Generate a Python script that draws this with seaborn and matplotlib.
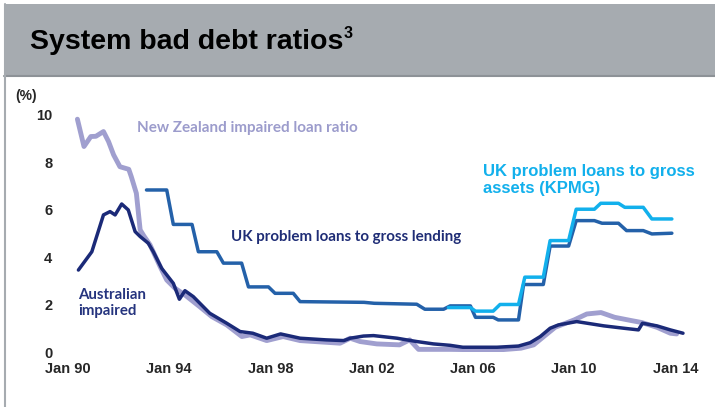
import numpy as np
import pandas as pd
import seaborn as sns
import matplotlib.pyplot as plt
from matplotlib.patches import Rectangle
from matplotlib.lines import Line2D

# データ（図から読み取った値, 年は小数で表現）
nz_t = [1990.37, 1990.63, 1990.9, 1991.1, 1991.4, 1991.6, 1991.8, 1992.05, 1992.4, 1992.5,
        1992.7, 1992.85, 1993.0, 1993.24, 1993.64, 1993.9, 1994.23, 1994.62, 1995.2, 1995.68,
        1996.27, 1996.87, 1997.2, 1997.85, 1998.5, 1999.17, 2000.75, 2001.15, 2001.54, 2002.2,
        2003.1, 2003.5, 2003.85, 2005.1, 2006.95, 2007.9, 2008.4, 2008.8, 2009.25, 2010.0,
        2010.5, 2011.06, 2011.6, 2012.27, 2012.67, 2013.27, 2013.8, 2014.05]
nz_v = [9.82, 8.67, 9.09, 9.10, 9.30, 8.88, 8.32, 7.82, 7.71, 7.40,
        6.70, 5.16, 4.90, 4.53, 3.61, 3.05, 2.70, 2.42, 1.93, 1.51,
        1.16, 0.67, 0.74, 0.50, 0.67, 0.50, 0.39, 0.60, 0.46, 0.36,
        0.32, 0.53, 0.13, 0.13, 0.10, 0.18, 0.32, 0.67, 1.06, 1.37,
        1.62, 1.68, 1.48, 1.34, 1.26, 1.06, 0.81, 0.78]

aus_t = [1990.41, 1990.94, 1991.4, 1991.66, 1991.86, 1992.12, 1992.38, 1992.65, 1992.85, 1993.17,
         1993.37, 1993.7, 1994.16, 1994.4, 1994.62, 1994.95, 1995.6, 1996.27, 1996.8, 1997.3,
         1997.85, 1998.4, 1999.17, 2000.2, 2000.9, 2001.15, 2001.67, 2002.07, 2003.0, 2003.38,
         2003.78, 2004.44, 2005.1, 2005.6, 2006.95, 2007.8, 2008.26, 2008.66, 2009.05, 2009.38,
         2010.1, 2011.17, 2011.96, 2012.54, 2012.7, 2013.27, 2013.8, 2014.3]
aus_v = [3.47, 4.24, 5.79, 5.93, 5.79, 6.25, 6.00, 5.09, 4.88, 4.60,
         4.24, 3.54, 2.91, 2.24, 2.60, 2.35, 1.65, 1.23, 0.88, 0.81,
         0.60, 0.78, 0.60, 0.53, 0.50, 0.60, 0.69, 0.71, 0.60, 0.53,
         0.46, 0.36, 0.30, 0.22, 0.22, 0.27, 0.41, 0.67, 1.02, 1.16,
         1.30, 1.12, 1.02, 0.95, 1.23, 1.12, 0.95, 0.81]

uk_t = [1993.1, 1993.9, 1994.16, 1994.9, 1995.15, 1995.88, 1996.14, 1996.86, 1997.13, 1997.92,
        1998.18, 1998.9, 1999.17, 2001.7, 2002.1, 2003.78, 2004.1, 2004.84, 2005.1, 2005.9,
        2006.1, 2006.8, 2007.0, 2007.8, 2008.0, 2008.78, 2009.05, 2009.78, 2010.08, 2010.8,
        2011.1, 2011.75, 2012.07, 2012.73, 2013.07, 2013.86]
uk_v = [6.84, 6.84, 5.39, 5.39, 4.24, 4.24, 3.76, 3.76, 2.76, 2.76,
        2.49, 2.49, 2.14, 2.11, 2.07, 2.03, 1.82, 1.82, 1.96, 1.96,
        1.48, 1.48, 1.37, 1.37, 2.86, 2.86, 4.48, 4.48, 5.55, 5.55,
        5.44, 5.44, 5.13, 5.13, 4.99, 5.02]

kpmg_t = [2005.03, 2005.9, 2006.1, 2006.8, 2007.07, 2007.8, 2008.05, 2008.78, 2009.05, 2009.78,
          2010.08, 2010.8, 2011.05, 2011.75, 2012.0, 2012.73, 2013.07, 2013.86]
kpmg_v = [1.89, 1.89, 1.74, 1.74, 2.02, 2.02, 3.17, 3.17, 4.71, 4.71,
          6.03, 6.03, 6.28, 6.28, 6.11, 6.11, 5.62, 5.62]

x_ticks = [1990, 1994, 1998, 2002, 2006, 2010, 2014]
x_labels = ['Jan 90', 'Jan 94', 'Jan 98', 'Jan 02', 'Jan 06', 'Jan 10', 'Jan 14']
y_ticks = [0, 2, 4, 6, 8, 10]

sns.set_style('white')
plt.rcParams['font.family'] = ['Liberation Sans', 'DejaVu Sans']

fig = plt.figure(figsize=(7.15, 4.07), dpi=100)
W, H = 715, 407

# タイトル帯と左の枠線
fig.patches.append(Rectangle((4 / W, 1 - 76 / H), 1 - 4 / W, 72 / H, transform=fig.transFigure,
                             facecolor='#a6abb0', edgecolor='none', zorder=0))
fig.add_artist(Line2D([4 / W, 1], [1 - 76 / H, 1 - 76 / H], transform=fig.transFigure,
                      color='#8d9297', lw=1.5))
fig.add_artist(Line2D([4.5 / W, 4.5 / W], [0, 1 - 4 / H], transform=fig.transFigure,
                      color='#a6abb0', lw=1.5))
fig.text(30 / W, 1 - 42 / H, 'System bad debt ratios', fontsize=20.5,
         fontweight='bold', va='center', ha='left', color='black')
fig.text(344 / W, 1 - 34 / H, '3', fontsize=11.5, fontweight='bold',
         va='center', ha='left', color='black')

ax = fig.add_axes([0.081, 0.134, 0.899, 0.607])
ax.patch.set_alpha(0)

sns.lineplot(x=nz_t, y=nz_v, ax=ax, color='#a09fcf', linewidth=3.5)
sns.lineplot(x=aus_t, y=aus_v, ax=ax, color='#1b2a78', linewidth=2.5)
sns.lineplot(x=uk_t, y=uk_v, ax=ax, color='#2461a9', linewidth=2.5)
sns.lineplot(x=kpmg_t, y=kpmg_v, ax=ax, color='#12b0ec', linewidth=2.5)

ax.set_xlim(1989.6, 2015.0)
ax.set_ylim(0, 10.4)
ax.set_xticks(x_ticks)
ax.set_xticklabels(x_labels, fontsize=10.5, fontweight='bold')
ax.set_yticks(y_ticks)
ax.set_yticklabels([str(v) for v in y_ticks], fontsize=10.5, fontweight='bold')
ax.tick_params(axis='both', length=0)
ax.tick_params(axis='x', pad=7)
ax.tick_params(axis='y', pad=4)
for s in ax.spines.values():
    s.set_visible(False)

fig.text(15 / W, 1 - 96 / H, '(%)', fontsize=10, fontweight='bold', va='center', ha='left')

# 系列ラベル
lab = dict(fontweight='bold', va='center', ha='left', family=['Lato', 'DejaVu Sans'])
ax.text(1992.73, 9.45, 'New Zealand impaired loan ratio', color='#9c9ccc', fontsize=11, **lab)
ax.text(1996.43, 4.88, 'UK problem loans to gross lending', color='#1f2d76', fontsize=10.9, **lab)
ax.text(1990.41, 2.09, 'Australian\nimpaired', color='#25347e', fontsize=10.8,
        linespacing=1.15, **lab)
ax.text(2006.39, 7.26, 'UK problem loans to gross\nassets (KPMG)', color='#12b0ec', fontsize=12,
        fontweight='bold', va='center', ha='left', linespacing=1.2)

plt.savefig('out.png', dpi=100)
